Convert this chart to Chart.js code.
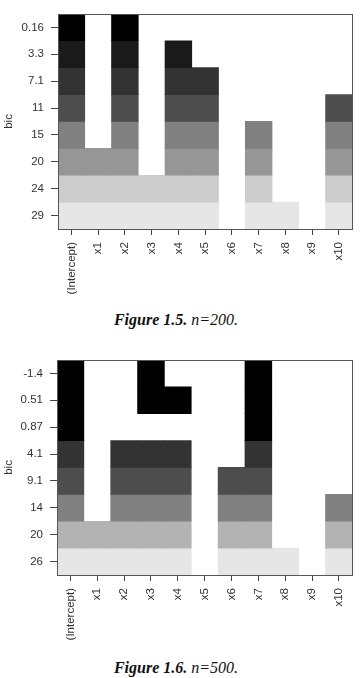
<!DOCTYPE html>
<html>
<head>
<meta charset="utf-8">
<script src="https://cdn.jsdelivr.net/npm/chart.js@4/dist/chart.umd.min.js"></script>
<style>
html,body{margin:0;padding:0;background:#fff;width:360px;height:678px;overflow:hidden;}
.box{position:absolute;left:0;width:360px;height:300px;}
.cap{position:absolute;left:0;width:352px;text-align:center;font-family:"Liberation Serif","Times New Roman",serif;font-size:16px;line-height:18px;color:#111;}
.cap b{font-weight:bold;font-style:italic;}
.cap i{font-style:italic;}
</style>
</head>
<body>
<div class="box" style="top:0px"><canvas id="c1" width="360" height="300"></canvas></div>
<div class="cap" style="top:311px"><b>Figure 1.5.</b> <i>n=200.</i></div>
<div class="box" style="top:346px"><canvas id="c2" width="360" height="300"></canvas></div>
<div class="cap" style="top:659px"><b>Figure 1.6.</b> <i>n=500.</i></div>
<script>
const categories = ['(Intercept)','x1','x2','x3','x4','x5','x6','x7','x8','x9','x10'];

const bicLabels200 = ['0.16','3.3','7.1','11','15','20','24','29'];
const models200 = [
  [1,0,1,0,0,0,0,0,0,0,0],
  [1,0,1,0,1,0,0,0,0,0,0],
  [1,0,1,0,1,1,0,0,0,0,0],
  [1,0,1,0,1,1,0,0,0,0,1],
  [1,0,1,0,1,1,0,1,0,0,1],
  [1,1,1,0,1,1,0,1,0,0,1],
  [1,1,1,1,1,1,0,1,0,0,1],
  [1,1,1,1,1,1,0,1,1,0,1]
];

const bicLabels500 = ['-1.4','0.51','0.87','4.1','9.1','14','20','26'];
const models500 = [
  [1,0,0,1,0,0,0,1,0,0,0],
  [1,0,0,1,1,0,0,1,0,0,0],
  [1,0,0,0,0,0,0,1,0,0,0],
  [1,0,1,1,1,0,0,1,0,0,0],
  [1,0,1,1,1,0,1,1,0,0,0],
  [1,0,1,1,1,0,1,1,0,0,1],
  [1,1,1,1,1,0,1,1,0,0,1],
  [1,1,1,1,1,0,1,1,1,0,1]
];

const rowColors200 = ['#000000','#1a1a1a','#333333','#4d4d4d','#808080','#969696','#cccccc','#e6e6e6'];
const rowColors500 = ['#000000','#000000','#000000','#333333','#4d4d4d','#808080','#b3b3b3','#e6e6e6'];

const frame = {
  id:'frame',
  afterDatasetsDraw(chart){
    const a = chart.chartArea, ctx = chart.ctx;
    ctx.save();
    ctx.strokeStyle = '#555';
    ctx.lineWidth = 1;
    ctx.strokeRect(Math.round(a.left)+0.5, Math.round(a.top)+0.5, Math.round(a.right-a.left), Math.round(a.bottom-a.top));
    ctx.restore();
  }
};

function makeChart(id, models, labels, colors, yWidth){
  const datasets = models.map((row, r) => ({
    data: row.map(v => v ? [r - 0.5, r + 0.5] : null),
    backgroundColor: colors[r],
    borderWidth: 0,
    grouped: false,
    barPercentage: 1,
    categoryPercentage: 1
  }));
  const font = {family: '"Liberation Sans", Arial, sans-serif', size: 11.5};
  return new Chart(document.getElementById(id), {
    type: 'bar',
    data: {labels: categories, datasets},
    plugins: [frame],
    options: {
      responsive: false,
      animation: false,
      events: [],
      layout: {padding: {top: 11, right: 6, left: 0, bottom: 0}},
      plugins: {legend: {display: false}, tooltip: {enabled: false}},
      scales: {
        x: {
          type: 'category',
          grid: {display: true, drawOnChartArea: false, drawTicks: true, tickLength: 6, offset: false, color: '#444', tickColor: '#444'},
          border: {display: false},
          ticks: {minRotation: 90, maxRotation: 90, autoSkip: false, padding: 7, color: '#333', font},
          afterFit(s){ s.height = 71; }
        },
        y: {
          type: 'linear',
          reverse: true,
          min: -0.5,
          max: labels.length - 0.5,
          grid: {display: true, drawOnChartArea: false, drawTicks: true, tickLength: 7, color: '#444', tickColor: '#444'},
          border: {display: false},
          afterBuildTicks(s){ s.ticks = labels.map((_, i) => ({value: i})); },
          ticks: {autoSkip: false, padding: 7, color: '#333', font,
            callback: v => labels[v] !== undefined ? labels[v] : ''},
          title: {display: true, text: 'bic', color: '#333', font, padding: {top: 2, bottom: 0}},
          afterFit(s){ s.width = yWidth; }
        }
      }
    }
  });
}

makeChart('c1', models200, bicLabels200, rowColors200, 58);
makeChart('c2', models500, bicLabels500, rowColors500, 57);
</script>
</body>
</html>
